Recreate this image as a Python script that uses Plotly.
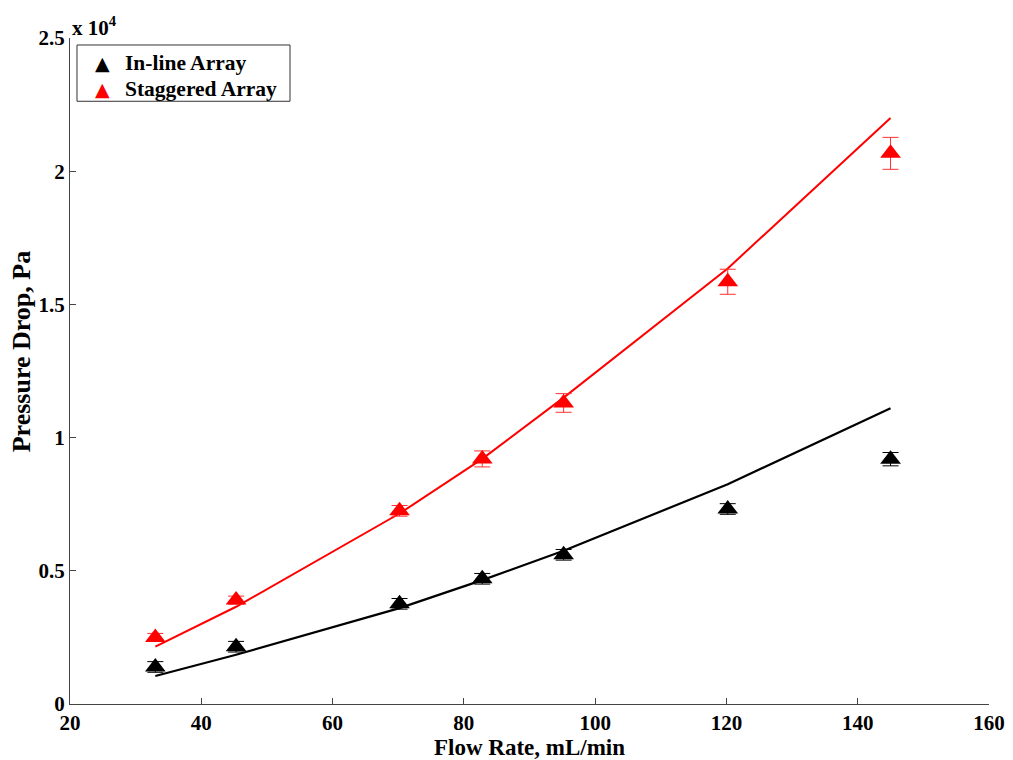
import plotly.graph_objects as go

flow_rate = [33.0, 45.3, 70.2, 82.8, 95.2, 120.2, 145.0]

inline_dp = [1390, 2150, 3760, 4700, 5600, 7320, 9190]
inline_err = [200, 200, 200, 200, 200, 200, 250]
inline_fit = [1050, 1850, 3600, 4650, 5750, 8250, 11100]

staggered_dp = [2500, 3900, 7250, 9200, 11300, 15850, 20670]
staggered_err = [150, 150, 200, 300, 350, 470, 600]
staggered_fit = [2150, 3650, 7150, 9200, 11500, 16350, 22000]

series_names = ["In-line Array", "Staggered Array"]
series_colors = ["black", "red"]

y_ticks = [0, 5000, 10000, 15000, 20000, 25000]
y_tick_text = ["0", "0.5", "1", "1.5", "2", "2.5"]
x_ticks = [20, 40, 60, 80, 100, 120, 140, 160]

font_family = "Liberation Serif"
tick_font = dict(family=font_family, size=21, color="black", weight="bold")
title_font = dict(family=font_family, size=23, color="black", weight="bold")

fig = go.Figure()

fig.add_trace(go.Scatter(
    x=flow_rate, y=inline_fit, mode="lines",
    line=dict(color="black", width=2.2), showlegend=False, hoverinfo="skip"))
fig.add_trace(go.Scatter(
    x=flow_rate, y=staggered_fit, mode="lines",
    line=dict(color="red", width=2), showlegend=False, hoverinfo="skip"))

fig.add_trace(go.Scatter(
    x=flow_rate, y=inline_dp, mode="markers", name=series_names[0],
    marker=dict(symbol="triangle-up", size=18, color=series_colors[0]),
    error_y=dict(type="data", array=inline_err, color="black", thickness=1, width=8),
    showlegend=False))
fig.add_trace(go.Scatter(
    x=flow_rate, y=staggered_dp, mode="markers", name=series_names[1],
    marker=dict(symbol="triangle-up", size=18, color=series_colors[1]),
    error_y=dict(type="data", array=staggered_err, color="#ff3030", thickness=1, width=8),
    showlegend=False))

# exponent label above the y axis
fig.add_annotation(
    xref="paper", yref="paper", x=0.0, y=1.0, xanchor="left", yanchor="bottom",
    yshift=-4, text="x 10<sup>4</sup>", showarrow=False, font=tick_font)

# y axis title, placed by hand
fig.add_annotation(
    xref="paper", yref="paper", x=-0.053, y=0.53, xanchor="center", yanchor="middle",
    text="Pressure Drop, Pa", textangle=-90, showarrow=False,
    font=dict(family=font_family, size=26, color="black", weight="bold"))

# legend box with two entries
fig.add_shape(type="rect", xref="paper", yref="paper",
              x0=0.0076, x1=0.2394, y0=0.905, y1=0.9895,
              line=dict(color="#333", width=1), fillcolor="white", layer="above")
for i, (name, col) in enumerate(zip(series_names, series_colors)):
    yc = 0.9625 - i * 0.039
    fig.add_annotation(xref="paper", yref="paper", x=0.035, y=yc,
                       xanchor="center", yanchor="middle", showarrow=False,
                       text="▲", font=dict(family="DejaVu Sans", size=19, color=col))
    fig.add_annotation(xref="paper", yref="paper", x=0.058, y=yc,
                       xanchor="left", yanchor="middle", showarrow=False,
                       text=name, font=dict(family=font_family, size=21.5,
                                            color="black", weight="bold"))

fig.update_layout(
    width=1013, height=760,
    margin=dict(l=70, r=24, t=38, b=56),
    paper_bgcolor="white", plot_bgcolor="white",
    font=tick_font,
    showlegend=False,
)

fig.update_xaxes(
    range=[20, 160], tickvals=x_ticks, ticks="inside", ticklen=6,
    tickcolor="#444", showline=True, linecolor="#444", linewidth=1,
    showgrid=False, zeroline=False, mirror=False, automargin=False,
    tickfont=tick_font,
    title=dict(text="Flow Rate, mL/min", standoff=4, font=title_font))
fig.update_yaxes(
    range=[0, 25000], tickvals=y_ticks, ticktext=y_tick_text,
    ticks="inside", ticklen=6, tickcolor="#444",
    showline=True, linecolor="#444", linewidth=1,
    showgrid=False, zeroline=False, mirror=False, automargin=False,
    tickfont=tick_font)

fig.write_html("out.html")
